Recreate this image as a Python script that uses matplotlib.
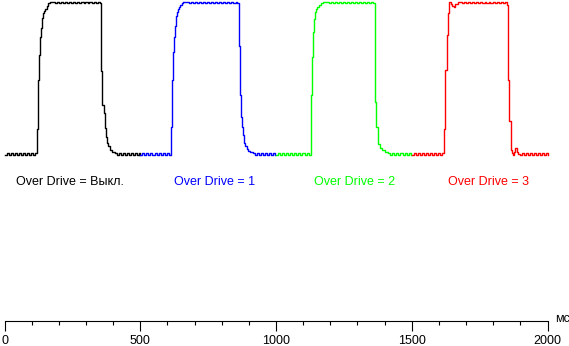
import numpy as np
import matplotlib
matplotlib.use('Agg')
import matplotlib.pyplot as plt

plt.rcParams['font.family'] = ['Liberation Sans', 'DejaVu Sans']
plt.rcParams['font.size'] = 9

# brightness (%) vs time (ms), one trace per Over Drive setting
t_black = [0, 7.5, 15, 22.5, 30, 37.5, 45, 52.5, 60, 67.5, 75, 82.5, 90, 97.5, 105, 112.5,
           121, 124.5, 128, 132, 135.5, 139, 143, 146.5, 150, 155.5, 161, 167.5, 179,
           186, 193, 201, 208, 216, 223, 231, 238, 246, 253, 261, 268, 276, 283, 291, 298,
           306, 313, 321, 328, 336, 343, 350,
           354.5, 358, 365.5, 369, 372.5, 376.5, 381, 388.5, 396, 407,
           414, 421.5, 429, 436.5, 444, 451.5, 459, 466.5, 474, 481.5, 489, 496.5, 500]
v_black = [0, 1, 0, 1, 0, 1, 0, 1, 0, 1, 0, 1, 0, 1, 0, 1,
           17, 49, 65, 77, 83, 89, 92.5, 94, 95, 97, 98.8, 99.5, 100,
           99.3, 100, 99.3, 100, 99.3, 100, 99.3, 100, 99.3, 100, 99.3, 100, 99.3, 100, 99.3, 100,
           99.3, 100, 99.3, 100, 99.3, 100, 99.3,
           54.6, 32.4, 27.1, 17.3, 11.4, 7.5, 5.6, 2.9, 1.6, 0.7,
           0, 1, 0, 1, 0, 1, 0, 1, 0, 1, 0, 1, 0]

t_blue = [500, 507.5, 515, 522.5, 530, 537.5, 545, 552.5, 560, 567.5, 575, 582.5, 590, 597.5, 605,
          612, 616, 620, 623, 627, 631, 634, 638, 643, 646, 652, 658, 671,
          678, 686, 693, 701, 708, 716, 723, 731, 738, 746, 753, 761, 768, 776, 783, 791,
          798, 806, 813, 821, 828, 836, 843, 851, 858,
          865, 869, 872, 876, 880, 883, 887, 892, 898, 904, 916,
          923, 930.5, 938, 945.5, 953, 960.5, 968, 975.5, 983, 990.5, 998]
v_blue = [0, 1, 0, 1, 0, 1, 0, 1, 0, 1, 0, 1, 0, 1, 0,
          18, 49, 67, 77, 84, 90.5, 93.3, 95, 96.2, 97.7, 98.8, 99.5, 100,
          99.3, 100, 99.3, 100, 99.3, 100, 99.3, 100, 99.3, 100, 99.3, 100, 99.3, 100, 99.3, 100,
          99.3, 100, 99.3, 100, 99.3, 100, 99.3, 100, 99.3,
          71, 39, 24.5, 18, 12.7, 7.5, 5.6, 3.6, 2.5, 1.8, 0.8,
          0, 1, 0, 1, 0, 1, 0, 1, 0, 1, 0]

t_green = [1000, 1007.5, 1015, 1022.5, 1030, 1037.5, 1045, 1052.5, 1060, 1067.5, 1075, 1082.5,
           1090, 1097.5, 1105, 1112.5, 1120,
           1128, 1132, 1136, 1140, 1143, 1147, 1152, 1158, 1165, 1172, 1187,
           1194, 1201, 1209, 1216, 1224, 1231, 1239, 1246, 1254, 1261, 1269, 1276, 1284, 1291,
           1299, 1306, 1314, 1321, 1329, 1336, 1344, 1351, 1359,
           1363, 1366, 1370, 1374, 1377, 1383, 1392, 1401, 1414,
           1421, 1428.5, 1436, 1443.5, 1451, 1458.5, 1466, 1473.5, 1481, 1488.5, 1496]
v_green = [0, 1, 0, 1, 0, 1, 0, 1, 0, 1, 0, 1, 0, 1, 0, 1, 0,
           39, 64, 80, 88.4, 93, 95, 96.2, 97.7, 98.8, 99.5, 100,
           99.3, 100, 99.3, 100, 99.3, 100, 99.3, 100, 99.3, 100, 99.3, 100, 99.3, 100,
           99.3, 100, 99.3, 100, 99.3, 100, 99.3, 100, 99.3,
           68.7, 34.5, 18.2, 11.2, 6.9, 4.1, 2.9, 1.8, 0.8,
           0, 1, 0, 1, 0, 1, 0, 1, 0, 1, 0]

t_red = [1500, 1507.5, 1515, 1522.5, 1530, 1537.5, 1545, 1552.5, 1560, 1567.5, 1575, 1582.5,
         1590, 1597.5, 1605, 1612.5,
         1620, 1624, 1628, 1632, 1636, 1639, 1643, 1648, 1654, 1660, 1669, 1678,
         1685, 1693, 1700, 1708, 1715, 1723, 1730, 1738, 1745, 1753, 1760, 1768, 1775, 1783,
         1790, 1798, 1805, 1813, 1820, 1828, 1835, 1843,
         1850, 1856, 1860, 1864, 1867, 1870, 1873, 1877, 1882, 1886, 1890,
         1897, 1904.5, 1912, 1919.5, 1927, 1934.5, 1942, 1949.5, 1957, 1964.5, 1972, 1979.5,
         1987, 1994.5, 2000]
v_red = [0, 1, 0, 1, 0, 1, 0, 1, 0, 1, 0, 1, 0, 1, 0, 1,
         17, 55, 78, 92.3, 99.2, 99.9, 98.2, 97.1, 96.6, 98.4, 99.5, 100,
         99.3, 100, 99.3, 100, 99.3, 100, 99.3, 100, 99.3, 100, 99.3, 100, 99.3, 100,
         99.3, 100, 99.3, 100, 99.3, 100, 99.3, 100,
         98, 49, 22, 9.5, 2.9, 0.8, -0.3, 1.8, 4.1, 1.8, 0.2,
         0, 1, 0, 1, 0, 1, 0, 1, 0, 1, 0, 1, 0, 1, 0]

labels = ['Over Drive = Выкл.', 'Over Drive = 1', 'Over Drive = 2', 'Over Drive = 3']
label_x = [44, 623, 1140, 1632]
colors = ['black', '#0000ff', '#00ff00', '#ff0000']

fig = plt.figure(figsize=(5.69, 3.46), dpi=100, facecolor='w')
ax = fig.add_axes([4.5/569, 25.3/346, 543/569, 320.7/346])

for t, v, c in zip([t_black, t_blue, t_green, t_red], [v_black, v_blue, v_green, v_red], colors):
    ax.plot(t, v, color=c, lw=1.0, drawstyle='steps-post', clip_on=False)

for s, x, c in zip(labels, label_x, colors):
    ax.text(x, -18, s, color=c, ha='left', va='center', fontsize=9)

ax.set_xlim(0, 2000)
ax.set_ylim(-108.6, 101.0)
ax.set_xticks([0, 500, 1000, 1500, 2000])
ax.set_xticks(np.arange(0, 2001, 100), minor=True)
ax.set_yticks([])
for side in ['top', 'left', 'right']:
    ax.spines[side].set_visible(False)
ax.spines['bottom'].set_linewidth(0.8)
ax.tick_params(axis='x', which='major', length=7.5, width=0.8, pad=3, labelsize=9)
ax.tick_params(axis='x', which='minor', length=3, width=0.8)
ax.text(2028, -107.5, 'мс', ha='left', va='center', fontsize=9, clip_on=False)
ax.patch.set_visible(False)

fig.savefig('out.png', dpi=100, facecolor='w')
